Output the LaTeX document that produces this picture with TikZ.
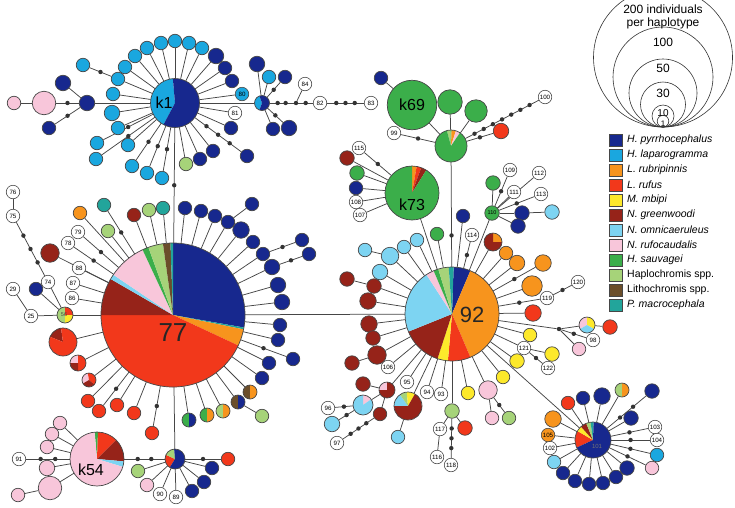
\documentclass[tikz,border=0pt]{standalone}
\usepackage{fontspec}
\setmainfont{Liberation Sans}
\usetikzlibrary{backgrounds,calc}
\definecolor{HPyr}{HTML}{17288E}
\definecolor{HLap}{HTML}{1AA7DF}
\definecolor{LRub}{HTML}{F7941D}
\definecolor{LRuf}{HTML}{F2381B}
\definecolor{MMbi}{HTML}{FDE92B}
\definecolor{NGre}{HTML}{962319}
\definecolor{NOmn}{HTML}{7DD4F2}
\definecolor{NRuf}{HTML}{F8C6DA}
\definecolor{HSau}{HTML}{3BAE4A}
\definecolor{HSpp}{HTML}{A6D379}
\definecolor{LSpp}{HTML}{6B4E2A}
\definecolor{PMac}{HTML}{22A59B}
\definecolor{LineGray}{HTML}{464646}

\newcommand{\hpie}[3]{%
  \foreach \ps/\pe/\pc in {#3} {\fill[fill=\pc] (#1.center) -- ++(\ps:#2) arc[start angle=\ps, end angle=\pe, radius=#2] -- cycle;}
  \draw[rim] (#1.center) circle[radius=#2];}
\newcommand{\haplink}[3]{%
  \begin{scope}[on background layer]
    \draw[tie] (#1) -- (#2);
    \ifnum#3>0
      \foreach \j in {1,...,#3} {\pgfmathsetmacro\pp{\j/(#3+1)}\path (#1) -- (#2) node[mdot, pos=\pp] {};}
    \fi
  \end{scope}}

\begin{document}
\begin{tikzpicture}[x=1pt, y=-1pt,
    hub/.style={circle, inner sep=0pt, minimum size=#1pt},
    leaf/.style={circle, draw=LineGray, line width=0.7pt, inner sep=0pt, minimum size=#1pt+0.5pt},
    numbox/.style={circle, draw=LineGray, fill=white, line width=0.6pt, inner sep=0pt, minimum size=13.5pt, font=\fontsize{6.2}{6.2}\selectfont},
    tie/.style={draw=LineGray, line width=0.75pt},
    mdot/.style={circle, fill=black!80, inner sep=0pt, minimum size=4.4pt},
    rim/.style={draw=LineGray, line width=0.7pt},
    scalecirc/.style={draw=black!80, line width=0.6pt},
    swatch/.style={draw=LineGray, line width=0.4pt, minimum size=12.5pt, inner sep=0pt},
    hubtext/.style={font=\fontsize{16}{16}\selectfont}
]
\useasboundingbox (0,0) rectangle (735,507);

\node[hub=49] (k1) at (175,103) {};
\hpie{k1}{24.5}{118/265/HLap, 265/478/HPyr}
\node[hubtext] (k1t) at (164,103) {k1};
\foreach \x/\y/\c/\s/\m [count=\i] in {125/67/HLap/13/0, 135/56/HLap/13/0, 147/48/HLap/13/0, 161/43/HLap/13/0, 175/41/HLap/13/0,
    189/43/HLap/13/0, 202/48/HLap/13/0, 216/56/HPyr/15/0, 225/68/HPyr/13/0, 232/81/HPyr/13/0,
    231/128/HPyr/13/0, 247/156/HPyr/13/3, 213/151/HPyr/13/0, 200/159/HPyr/13/0, 186/164/HSpp/13/0,
    162/178/HLap/13/1, 147/173/HLap/13/1, 132/166/HLap/13/1, 128/145/HLap/13/0, 97/143/HLap/13/1,
    96/159/HLap/13/1, 118/128/HLap/13/0, 112/113/HLap/15/0, 113/94/HLap/13/0, 118/79/HLap/13/0} {
  \node[leaf=\s, fill=\c] (k1l\i) at (\x,\y) {};
  \haplink{k1}{k1l\i}{\m}
}
\node[leaf=13, fill=HLap] (k1l26) at (83,65) {};
\haplink{k1l25}{k1l26}{1}
\node[numbox, fill=HLap] (n80) at (242,94) {80};
\node[numbox] (n81) at (235,113) {81};
\haplink{k1}{n80}{0}
\haplink{k1}{n81}{0}
\node[leaf=15, fill=HPyr] (kw1) at (87,103) {};
\node[leaf=23, fill=NRuf] (kw2) at (44,103) {};
\node[leaf=13, fill=NRuf] (kw3) at (14,103) {};
\node[leaf=15, fill=HPyr] (kw4) at (63,83) {};
\node[leaf=13, fill=HPyr] (kw5) at (49,128) {};
\haplink{k1}{kw1}{0}
\haplink{kw1}{kw2}{1}
\haplink{kw2}{kw3}{0}
\haplink{kw1}{kw4}{0}
\haplink{kw1}{kw5}{1}
\node[hub=15] (ke) at (262,103) {};
\hpie{ke}{7.5}{110/250/HLap, 250/470/HPyr}
\haplink{k1}{ke}{0}
\foreach \x/\y/\c/\s/\m [count=\i] in {257/64/HPyr/15/0, 269/77/HLap/13/0, 285/77/HPyr/13/1, 273/129/HPyr/13/0, 289/128/HPyr/15/1} {
  \node[leaf=\s, fill=\c] (kel\i) at (\x,\y) {};
  \haplink{ke}{kel\i}{\m}
}
\node[mdot] (d84) at (296,103) {};
\node[numbox] (n82) at (320,103) {82};
\node[numbox] (n83) at (371,103) {83};
\node[numbox] (n84) at (305,84) {84};
\haplink{ke}{d84}{2}
\haplink{d84}{n82}{1}
\haplink{n82}{n83}{3}
\haplink{d84}{n84}{0}

\node[hub=144] (h77) at (173,315) {};
\hpie{h77}{72}{-90/10/HPyr, 10/11.5/PMac, 11.5/25/LRub, 25/180/LRuf, 180/210/NGre, 210/214/NOmn, 214/245/NRuf, 245/250/HSau, 250/262/HSpp, 262/268/LSpp, 268/270/PMac}
\node[font=\fontsize{26}{26}\selectfont, text=black!85] (h77t) at (173,333) {77};
\haplink{k1}{h77}{1}
\foreach \x/\y/\c/\s/\m [count=\i] in {104/205/PMac/13/1, 80/213/LRub/13/0, 108/231/HSpp/13/0, 134/215/NGre/13/0, 149/210/HSpp/13/0,
    163/208/PMac/13/0, 50/253/NGre/18/0, 185/208/HPyr/13/0, 201/211/HPyr/13/0, 215/216/HPyr/13/0,
    228/222/HPyr/13/0, 241/230/HPyr/16/0, 253/242/HPyr/13/0, 263/254/HPyr/13/0, 272/267/HPyr/15/0,
    278/285/HPyr/15/0, 282/302/HPyr/15/0, 280/325/HPyr/13/0, 278/340/HPyr/13/0, 269/363/HPyr/13/0,
    293/359/HPyr/13/1, 262/378/HPyr/13/0, 152/433/LRuf/13/1, 134/413/LRuf/13/0, 117/405/LRuf/13/0,
    99/411/LRuf/13/1, 88/401/LRuf/13/0} {
  \node[leaf=\s, fill=\c] (h77l\i) at (\x,\y) {};
  \haplink{h77}{h77l\i}{\m}
}
\node[leaf=13, fill=HPyr] (t77a) at (252,204) {};
\node[leaf=13, fill=HPyr] (t77b) at (302,240) {};
\node[leaf=13, fill=HPyr] (t77c) at (309,254) {};
\haplink{h77l11}{t77a}{0}
\haplink{h77l14}{t77b}{1}
\haplink{h77l15}{t77c}{1}
\foreach \x/\y/\t/\m in {78/232/79/1, 68/243/78/1, 79/268/88/0, 73/283/87/0, 72/298/86/0} {
  \node[numbox] (n\t) at (\x,\y) {\t};
  \haplink{h77}{n\t}{\m}
}
\foreach \x/\y/\a/\b [count=\i] in {250/392/LSpp/LRub, 238/402/LSpp/HPyr, 223/411/HSpp/LRub, 207/415/HSau/LRub, 189/420/HSau/HPyr} {
  \node[hub=14] (bi\i) at (\x,\y) {};
  \hpie{bi\i}{7}{90/270/\a, -90/90/\b}
  \haplink{h77}{bi\i}{0}
}
\node[leaf=13, fill=HSpp] (bi2c) at (262,416) {};
\haplink{bi2}{bi2c}{0}
\node[hub=28] (pr1) at (63,342) {};
\hpie{pr1}{14}{202/262/NGre, 262/562/LRuf}
\node[hub=16] (pr2) at (78,363) {};
\hpie{pr2}{8}{180/270/NRuf, 270/450/LRuf, 90/180/NGre}
\node[hub=14] (pr3) at (89,380) {};
\hpie{pr3}{7}{150/260/NRuf, 260/400/LRuf, 40/150/NGre}
\haplink{h77}{pr1}{0}
\haplink{h77}{pr2}{0}
\haplink{h77}{pr3}{0}
\node[hub=16] (n56) at (65,315) {};
\hpie{n56}{8}{90/270/HSpp, 270/360/LRuf, 0/90/MMbi}
\node[font=\fontsize{5.5}{6}\selectfont, text=LineGray] (n56t) at (64,315) {56};
\node[numbox] (n25) at (31,316) {25};
\node[numbox] (n29) at (13,289) {29};
\node[numbox] (n74) at (48,282) {74};
\node[numbox] (n75) at (13,216) {75};
\node[numbox] (n76) at (13,192) {76};
\node[leaf=13, fill=HPyr] (bl56) at (36,289) {};
\haplink{h77}{n56}{0}
\haplink{n56}{n25}{0}
\haplink{n25}{n29}{0}
\haplink{n56}{n74}{0}
\haplink{n56}{bl56}{0}
\haplink{n74}{n75}{3}
\haplink{n75}{n76}{0}

\node[hub=20] (hk) at (175,459) {};
\hpie{hk}{10}{122/205/LRuf, 205/265/HSpp, 265/482/HPyr}
\haplink{h77}{hk}{0}
\node[hub=54] (k54) at (97,459) {};
\hpie{k54}{27}{-95/-88/HSau, -88/-45/LRuf, -45/5/NGre, 5/17/NOmn, 17/265/NRuf}
\node[hubtext] (k54t) at (91,470) {k54};
\haplink{hk}{k54}{2}
\node[numbox] (n91) at (19,459) {91};
\haplink{k54}{n91}{2}
\foreach \x/\y/\c/\s/\m [count=\i] in {60/423/NRuf/13/0, 52/434/NRuf/13/0, 47/447/NRuf/13/0, 47/468/NRuf/15/0, 50/488/NRuf/23/0} {
  \node[leaf=\s, fill=\c] (k54l\i) at (\x,\y) {};
  \haplink{k54}{k54l\i}{\m}
}
\node[leaf=13, fill=NRuf] (k54l6) at (18,495) {};
\haplink{k54l5}{k54l6}{0}
\foreach \x/\y/\c/\s/\m [count=\i] in {138/471/HSpp/13/0, 147/485/NRuf/13/0, 192/491/HPyr/13/0, 204/482/HPyr/13/0, 212/468/HPyr/13/0, 228/459/LRuf/13/1} {
  \node[leaf=\s, fill=\c] (hkl\i) at (\x,\y) {};
  \haplink{hk}{hkl\i}{\m}
}
\node[numbox] (n90) at (160,494) {90};
\node[numbox] (n89) at (176,497) {89};
\haplink{hk}{n90}{0}
\haplink{hk}{n89}{0}

\node[hub=94] (h92) at (452,314) {};
\hpie{h92}{47}{-88/-67/HPyr, -67/67/LRub, 67/95/LRuf, 95/108/MMbi, 108/158/NGre, 158/237/NOmn, 237/247/NRuf, 247/253/HSau, 253/266/HSpp, 266/272/PMac}
\node[font=\fontsize{22}{22}\selectfont, text=black!85] (h92t) at (472,315) {92};
\haplink{h77}{h92}{0}
\foreach \x/\y/\c/\s/\m [count=\i] in {390/256/NOmn/17/0, 404/247/NOmn/13/0, 417/240/NOmn/13/0, 380/272/NOmn/15/0, 437/234/HSau/13/0,
    463/216/HPyr/13/0, 506/253/LRub/13/0, 517/263/LRub/15/0, 543/263/LRub/16/1, 532/286/LRub/20/0,
    533/313/LRuf/16/0, 530/335/MMbi/13/0, 517/361/MMbi/14/0, 503/377/MMbi/13/0, 488/390/NRuf/18/0,
    468/393/MMbi/13/0, 374/286/NGre/14/0, 368/301/NGre/16/0, 369/324/NGre/16/0, 373/338/NGre/14/0,
    377/355/NGre/18/0} {
  \node[leaf=\s, fill=\c] (h92l\i) at (\x,\y) {};
  \haplink{h92}{h92l\i}{\m}
}
\node[leaf=13, fill=NOmn] (lb92c) at (365,250) {};
\node[leaf=14, fill=NGre] (dr92c) at (347,279) {};
\node[leaf=14, fill=NGre] (dr92d) at (352,363) {};
\haplink{h92l1}{lb92c}{0}
\haplink{h92l17}{dr92c}{0}
\haplink{h92l21}{dr92d}{0}
\node[leaf=13, fill=NRuf] (pk92) at (492,418) {};
\node[leaf=13, fill=HSpp] (lg92) at (509,418) {};
\haplink{h92l15}{pk92}{0}
\haplink{h92l15}{lg92}{1}
\node[hub=18] (p92a) at (493,242) {};
\hpie{p92a}{9}{-90/0/LRub, 0/270/NGre}
\haplink{h92}{p92a}{0}
\foreach \x/\y/\t/\m in {472/235/114/1, 547/298/119/1, 524/348/121/0, 388/367/106/0, 407/382/95/0, 427/392/94/0, 441/394/93/0} {
  \node[numbox] (n\t) at (\x,\y) {\t};
  \haplink{h92}{n\t}{\m}
}
\node[numbox] (n120) at (578,282) {120};
\node[numbox] (n122) at (548,368) {122};
\node[leaf=14, fill=MMbi] (ye121) at (552,354) {};
\haplink{n119}{n120}{1}
\haplink{n121}{n122}{1}
\haplink{n121}{ye121}{0}
\node[mdot] (d98) at (559,329) {};
\haplink{h92}{d98}{0}
\node[hub=16] (p98) at (587,325) {};
\hpie{p98}{8}{150/270/NRuf, 270/390/MMbi, 30/150/NOmn}
\node[numbox] (n98) at (593,340) {98};
\node[leaf=13, fill=NRuf] (pk98) at (579,349) {};
\node[leaf=14, fill=LRuf] (rd98) at (610,327) {};
\haplink{d98}{p98}{0}
\haplink{d98}{n98}{1}
\haplink{d98}{pk98}{0}
\haplink{p98}{rd98}{0}
\node[leaf=14, fill=HSpp] (g92) at (452,411) {};
\haplink{h92}{g92}{0}
\node[numbox] (n117) at (440,429) {117};
\node[numbox] (n116) at (437,457) {116};
\node[numbox] (n118) at (451,465) {118};
\node[leaf=14, fill=LRuf] (rd117) at (465,428) {};
\haplink{g92}{n117}{0}
\haplink{n117}{n116}{0}
\haplink{g92}{n118}{3}
\haplink{g92}{rd117}{0}
\node[hub=28] (p92b) at (408,406) {};
\hpie{p92b}{14}{180/235/NOmn, 235/265/HSpp, 265/300/MMbi, 300/540/NGre}
\node[leaf=13, fill=NOmn] (lb92) at (398,437) {};
\haplink{h92}{p92b}{0}
\haplink{p92b}{lb92}{0}
\node[hub=16] (p92c) at (387,390) {};
\hpie{p92c}{8}{180/270/NRuf, 270/540/NGre}
\haplink{h92}{p92c}{0}
\node[leaf=14, fill=NGre] (dr92a) at (363,384) {};
\haplink{p92c}{dr92a}{0}
\node[hub=20] (p92d) at (363,405) {};
\hpie{p92d}{10}{-90/-35/NRuf, -35/270/NOmn}
\haplink{p92c}{p92d}{0}
\node[leaf=13, fill=NGre] (dr92b) at (380,414) {};
\haplink{p92c}{dr92b}{0}
\node[numbox] (n97) at (337,443) {97};
\node[numbox] (n96) at (328,408) {96};
\node[leaf=15, fill=NOmn] (lb92b) at (332,424) {};
\haplink{dr92b}{n97}{3}
\haplink{p92d}{n96}{1}
\haplink{p92d}{lb92b}{1}

\node[hub=32] (g69) at (451,146) {};
\hpie{g69}{16}{-105/-92/HSpp, -92/-88/HSau, -88/-72/LRub, -72/-56/NRuf, -56/255/HSau}
\node[leaf=49, fill=HSau, hubtext] (k69) at (412,105) {k69};
\haplink{k69}{g69}{0}
\node[leaf=24, fill=HSau] (g69a) at (450,102) {};
\node[leaf=22, fill=HSau] (g69b) at (476,111) {};
\node[leaf=13, fill=HPyr] (bl69) at (381,78) {};
\node[numbox] (n99) at (394,133) {99};
\node[numbox] (n100) at (545,97) {100};
\node[leaf=15, fill=LRuf] (rd69) at (501,131) {};
\haplink{g69}{g69a}{0}
\haplink{g69}{g69b}{0}
\haplink{k69}{bl69}{0}
\haplink{g69}{n99}{1}
\haplink{g69}{n100}{7}
\haplink{g69}{rd69}{1}
\begin{scope}[on background layer]
  \draw[tie] (g69) -- (h92) node[mdot, pos=0.7] {};
\end{scope}
\node[hub=54] (k73) at (412,193) {};
\hpie{k73}{27}{-90/-80/LRub, -80/-70/LRuf, -70/-58/NGre, -58/270/HSau}
\node[hubtext] (k73t) at (412,205) {k73};
\haplink{k73}{h92}{0}
\foreach \x/\y/\c/\s/\m [count=\i] in {347/158/NGre/14/0, 357/173/HSau/14/0, 356/188/HPyr/13/0} {
  \node[leaf=\s, fill=\c] (k73l\i) at (\x,\y) {};
  \haplink{k73}{k73l\i}{\m}
}
\foreach \x/\y/\t/\m in {359/148/115/1, 356/202/108/0, 360/215/107/0} {
  \node[numbox] (n\t) at (\x,\y) {\t};
  \haplink{k73}{n\t}{\m}
}
\node[leaf=14, fill=HSau, font=\fontsize{5.5}{6}\selectfont] (h110) at (492,213) {110};
\haplink{h92}{h110}{0}
\foreach \x/\y/\c/\s/\m [count=\i] in {493/183/HSau/14/0, 522/213/HPyr/14/0, 518/226/HPyr/14/0} {
  \node[leaf=\s, fill=\c] (h110l\i) at (\x,\y) {};
  \haplink{h110}{h110l\i}{\m}
}
\foreach \x/\y/\t/\m in {510/170/109/1, 539/173/112/0, 514/192/111/0, 541/194/113/1} {
  \node[numbox] (n\t) at (\x,\y) {\t};
  \haplink{h110}{n\t}{\m}
}
\node[leaf=14, fill=NOmn] (h110l4) at (552,212) {};
\haplink{h110l2}{h110l4}{0}

\node[hub=36] (h101) at (593,440) {};
\hpie{h101}{18}{155/210/LRuf, 210/228/MMbi, 228/248/NGre, 248/262/HSpp, 262/272/PMac, 272/515/HPyr}
\node[font=\fontsize{6}{6}\selectfont, text=black!55] (h101t) at (597,446) {101};
\haplink{h92}{h101}{0}
\foreach \x/\y/\c/\s/\m [count=\i] in {553/419/LRub/16/0, 568/403/LRuf/13/0, 583/398/HPyr/13/0, 602/396/HPyr/16/0, 652/391/HPyr/14/2,
    631/418/HPyr/14/0, 657/455/HLap/13/1, 652/468/NRuf/13/1, 627/468/HPyr/14/0, 616/477/HPyr/13/0,
    603/483/HPyr/13/0, 589/484/HPyr/13/0, 575/481/HPyr/13/0, 563/473/HPyr/13/0, 554/462/NOmn/13/0} {
  \node[leaf=\s, fill=\c] (h101l\i) at (\x,\y) {};
  \haplink{h101}{h101l\i}{\m}
}
\node[hub=14] (p101) at (622,390) {};
\hpie{p101}{7}{90/270/HSpp, -90/90/LRub}
\haplink{h101}{p101}{0}
\foreach \x/\y/\t/\m in {655/427/103/1, 657/440/104/1, 550/448/102/0} {
  \node[numbox] (n\t) at (\x,\y) {\t};
  \haplink{h101}{n\t}{\m}
}
\node[numbox, fill=LRub] (n105) at (548,435) {105};
\haplink{h101}{n105}{0}

\foreach \r in {69.5,50,34,22.5,11,5.8} \draw[scalecirc] (663,{127-\r}) circle[radius=\r];
\node[font=\fontsize{12}{12.5}\selectfont, align=center] (sc200) at (663,17) {200 individuals\\per haplotype};
\foreach \t/\ly/\fs in {100/42/12, 50/68/12, 30/93/12, 10/113/10, 1/124/8} {
  \node[font=\fontsize{\fs}{\fs}\selectfont, inner sep=0pt] (sc\t) at (663,\ly) {\t};
}
\foreach \c/\t [count=\i] in {HPyr/\textit{H. pyrrhocephalus}, HLap/\textit{H. laparogramma}, LRub/\textit{L. rubripinnis}, LRuf/\textit{L. rufus},
    MMbi/\textit{M. mbipi}, NGre/\textit{N. greenwoodi}, NOmn/\textit{N. omnicaeruleus}, NRuf/\textit{N. rufocaudalis},
    HSau/\textit{H. sauvagei}, HSpp/Haplochromis spp., LSpp/Lithochromis spp., PMac/\textit{P. macrocephala}} {
  \node[swatch, fill=\c] (sw\i) at (615.5,{125+15*\i}) {};
  \node[anchor=west, inner sep=0pt, font=\fontsize{10.5}{12}\selectfont] (lg\i) at (627,{125+15*\i}) {\t};
}
\end{tikzpicture}
\end{document}
